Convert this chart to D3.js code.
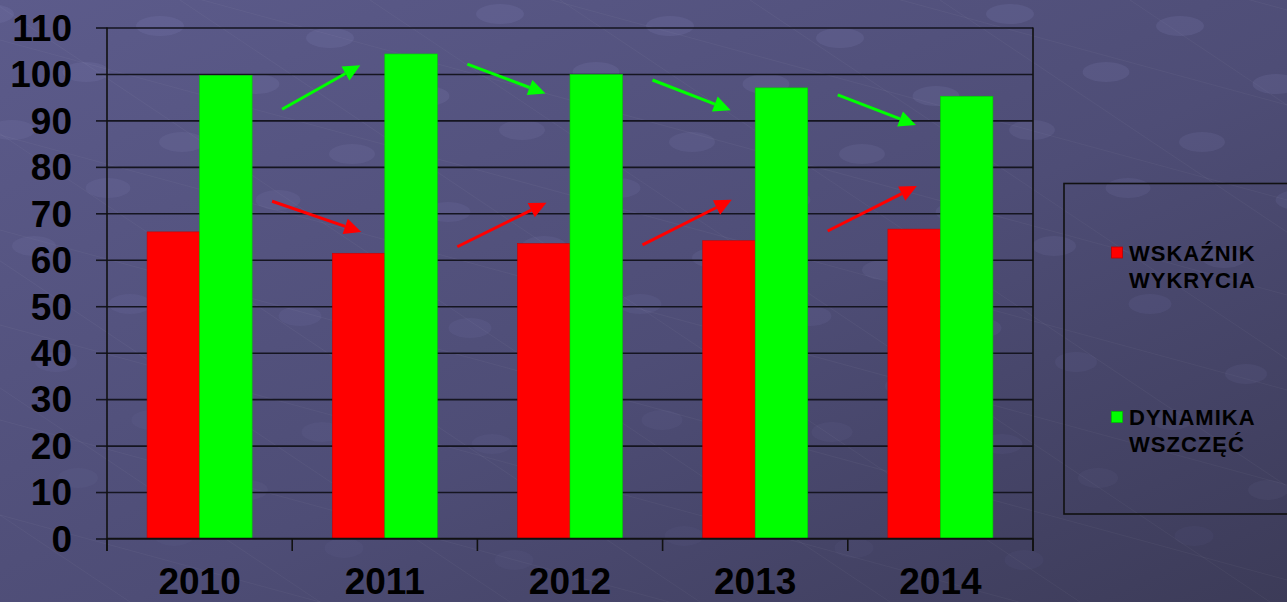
<html lang="pl">
<head>
    <meta charset="utf-8">
    <title>Wskaźnik wykrycia i dynamika wszczęć 2010-2014</title>
    <style>
        body {
            margin: 0;
            width: 1287px;
            height: 602px;
            overflow: hidden;
        }

        svg {
            display: block;
            font-family: "Liberation Sans", Arial, sans-serif;
        }

        .grid line {
            stroke: #151520;
            stroke-width: 1.6;
        }

        .grid path {
            display: none;
        }

        .axis-label {
            font-size: 37px;
            font-weight: bold;
            fill: #000;
        }

        .legend-text {
            font-size: 22px;
            font-weight: bold;
            letter-spacing: 1px;
            fill: #000;
        }
    </style>
</head>
<body>
<svg id="chart" width="1287" height="602"></svg>
<script src="https://d3js.org/d3.v7.min.js"></script>
<script>
    const years = ["2010", "2011", "2012", "2013", "2014"];
    const wskaznik = [66.0, 61.4, 63.5, 64.1, 66.6];
    const dynamika = [99.7, 104.3, 99.9, 97.0, 95.2];
    const yTicks = [0, 10, 20, 30, 40, 50, 60, 70, 80, 90, 100, 110];
    // trend arrows drawn between the years, start and end in axis units
    const redArrows = [[72.6, 66.0], [62.8, 72.3], [63.2, 72.9], [66.2, 75.9]];
    const greenArrows = [[92.4, 101.9], [102.1, 95.8], [98.7, 92.2], [95.5, 89.0]];
    const legendLines = [["WSKAŹNIK", "WYKRYCIA"], ["DYNAMIKA", "WSZCZĘĆ"]];
    const colors = ["#ff0000", "#00ff00"];

    const svg = d3.select("#chart");
    const width = +svg.attr("width");
    const height = +svg.attr("height");

    const plotLeft = 107, plotRight = 1033, plotTop = 27.5, plotBottom = 538.5;

    // background gradient
    const defs = svg.append("defs");
    const grad = defs.append("linearGradient").attr("id", "bg")
        .attr("x1", "0").attr("y1", "0").attr("x2", "1").attr("y2", "1");
    grad.append("stop").attr("offset", "0%").attr("stop-color", "#5c5b8b");
    grad.append("stop").attr("offset", "55%").attr("stop-color", "#4e4d76");
    grad.append("stop").attr("offset", "100%").attr("stop-color", "#3c3b58");
    svg.append("rect").attr("width", width).attr("height", height).attr("fill", "url(#bg)");

    // faint template decoration: slanted lines and flat discs
    const deco = svg.append("g").attr("pointer-events", "none");
    for(let k = -4; k < 10; k++)
    {
        deco.append("line")
            .attr("x1", k * 190 - 200).attr("y1", 0)
            .attr("x2", k * 190 + 700).attr("y2", 602)
            .attr("stroke", "#ffffff").attr("stroke-opacity", 0.04).attr("stroke-width", 1);
        deco.append("line")
            .attr("x1", 0).attr("y1", k * 95 - 150)
            .attr("x2", 1287).attr("y2", k * 95 + 200)
            .attr("stroke", "#ffffff").attr("stroke-opacity", 0.04).attr("stroke-width", 1);
    }
    for(let r = 0; r < 10; r++)
    {
        for(let c = 0; c < 8; c++)
        {
            const cx = c * 170 + (r % 2) * 85 - 10 + r * 11;
            const cy = r * 58 + 14 + (c % 3) * 12;
            deco.append("ellipse")
                .attr("cx", cx).attr("cy", cy)
                .attr("rx", 24 - r * 0.5).attr("ry", 10)
                .attr("fill", "#8a8ac0").attr("fill-opacity", Math.max(0.05, 0.16 - r * 0.012));
        }
    }

    const x = d3.scaleBand().domain(years).range([plotLeft, plotRight])
        .paddingInner(0.433).paddingOuter(0.2165);
    const xs = d3.scaleBand().domain([0, 1]).range([0, x.bandwidth()]);
    const y = d3.scaleLinear().domain([0, 110]).range([plotBottom, plotTop]);

    // gridlines with the small outer ticks on the left
    svg.append("g").attr("class", "grid")
        .attr("transform", `translate(${plotLeft},0)`)
        .call(d3.axisLeft(y).tickValues(yTicks).tickSizeInner(-(plotRight - plotLeft)).tickSizeOuter(0).tickFormat(""));
    svg.append("g").attr("class", "grid")
        .attr("transform", `translate(${plotLeft},0)`)
        .call(d3.axisLeft(y).tickValues(yTicks).tickSizeInner(11).tickSizeOuter(0).tickFormat(""));

    svg.append("g").selectAll("text")
        .data(yTicks)
        .join("text").attr("class", "axis-label")
        .attr("x", 72).attr("y", d => y(d))
        .attr("dy", "0.36em").attr("text-anchor", "end")
        .text(d => d);

    // bars
    const series = [wskaznik, dynamika];
    series.forEach((values, s) =>
    {
        svg.append("g").selectAll("rect")
            .data(values)
            .join("rect")
            .attr("x", (d, i) => x(years[i]) + xs(s))
            .attr("y", d => y(d))
            .attr("width", xs.bandwidth())
            .attr("height", d => y(0) - y(d))
            .attr("fill", colors[s])
            .attr("stroke", d3.color(colors[s]).darker(0.6))
            .attr("stroke-width", 0.6);
    });

    // axis lines, category ticks, right border
    const gap = (x.step() - x.bandwidth()) / 2;
    const bounds = years.map(yr => x(yr) - gap).concat([plotRight]);
    const axes = svg.append("g").attr("stroke", "#111").attr("stroke-width", 1.6);
    axes.append("line").attr("x1", plotLeft).attr("x2", plotRight).attr("y1", plotBottom).attr("y2", plotBottom);
    axes.append("line").attr("x1", plotLeft).attr("x2", plotLeft).attr("y1", plotTop).attr("y2", plotBottom + 12.5);
    axes.append("line").attr("x1", plotRight).attr("x2", plotRight).attr("y1", plotTop).attr("y2", plotBottom + 12.5);
    axes.selectAll("line.tick").data(bounds).join("line").attr("class", "tick")
        .attr("x1", d => d).attr("x2", d => d).attr("y1", plotBottom).attr("y2", plotBottom + 12.5);

    svg.append("g").selectAll("text")
        .data(years)
        .join("text").attr("class", "axis-label")
        .attr("x", d => x(d) + x.bandwidth() / 2).attr("y", 594)
        .attr("text-anchor", "middle")
        .text(d => d);

    // trend arrows
    function drawArrows(list, color, startOff, endOff)
    {
        const g = svg.append("g");
        list.forEach((a, i) =>
        {
            const x1 = x(years[i]) + x.bandwidth() + startOff;
            const x2 = x(years[i + 1]) + endOff;
            const y1 = y(a[0]), y2 = y(a[1]);
            const ang = Math.atan2(y2 - y1, x2 - x1);
            const len = 17, half = 8;
            const bx = x2 - len * Math.cos(ang), by = y2 - len * Math.sin(ang);
            g.append("line")
                .attr("x1", x1).attr("y1", y1).attr("x2", bx).attr("y2", by)
                .attr("stroke", color).attr("stroke-width", 3);
            g.append("path")
                .attr("d", `M${x2},${y2}L${bx - half * Math.sin(ang)},${by + half * Math.cos(ang)}L${bx + half * Math.sin(ang)},${by - half * Math.cos(ang)}Z`)
                .attr("fill", color);
        });
    }
    drawArrows(greenArrows, colors[1], 30, 28);
    drawArrows(redArrows, colors[0], 20, 29);

    // legend
    const legend = svg.append("g");
    legend.append("rect")
        .attr("x", 1064).attr("y", 183.5).attr("width", 260).attr("height", 330.5)
        .attr("fill", "none").attr("stroke", "#111").attr("stroke-width", 1.6);
    const legendY = [260.5, 425];
    legendLines.forEach((lines, s) =>
    {
        legend.append("rect")
            .attr("x", 1111.5).attr("y", legendY[s] - 13.5).attr("width", 11).attr("height", 11)
            .attr("fill", colors[s]).attr("stroke", d3.color(colors[s]).darker(0.8)).attr("stroke-width", 0.8);
        lines.forEach((t, k) =>
        {
            legend.append("text").attr("class", "legend-text")
                .attr("x", 1129).attr("y", legendY[s] + k * 27)
                .text(t);
        });
    });
</script>
</body>
</html>
